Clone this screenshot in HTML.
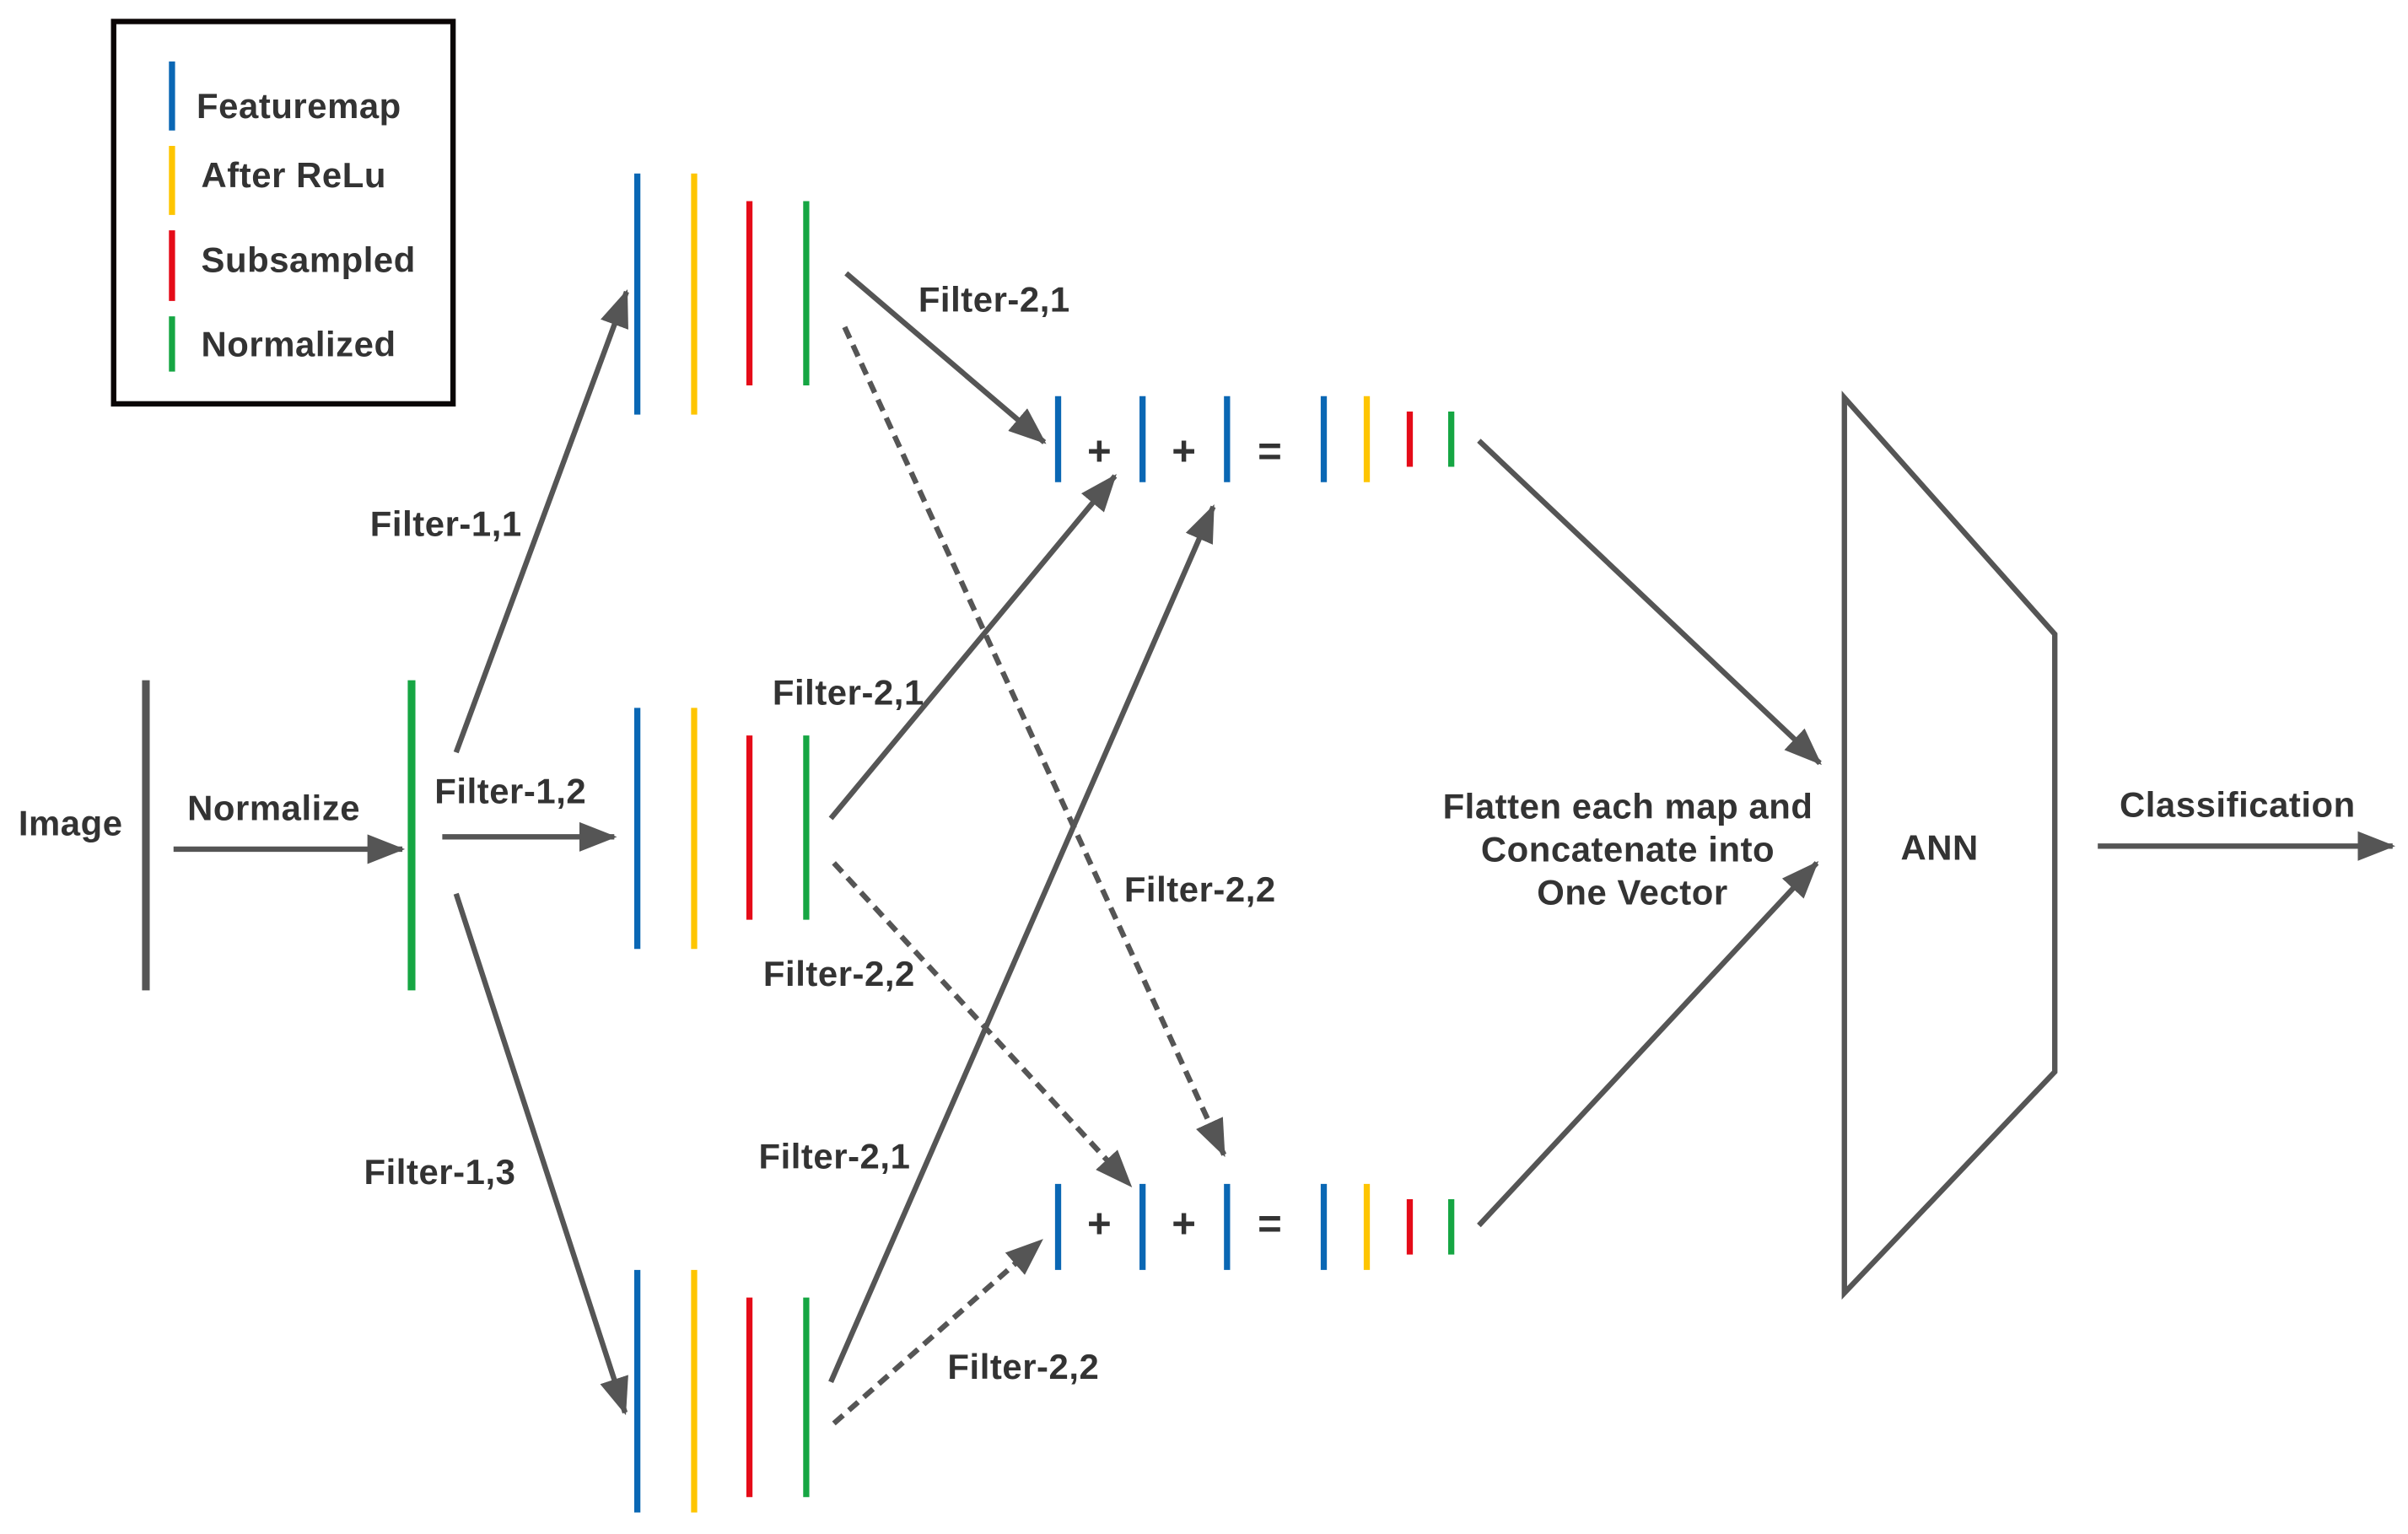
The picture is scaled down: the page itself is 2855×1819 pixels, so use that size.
<!DOCTYPE html>
<html><head><meta charset="utf-8"><style>
html,body{margin:0;padding:0;background:#fff}
svg{display:block}
text{font-family:"Liberation Sans",Arial,sans-serif;font-weight:bold;fill:#333;font-size:23px;letter-spacing:0.3px}
text.op{font-size:27px}
</style></head><body>
<svg width="2855" height="1819" viewBox="0 0 1568 999" preserveAspectRatio="none" xmlns="http://www.w3.org/2000/svg">
<defs>
<marker id="a" markerWidth="7" markerHeight="5.5" refX="6.5" refY="2.75" orient="auto" markerUnits="strokeWidth">
<path d="M0,0 L7,2.75 L0,5.5 Z" fill="#555"/>
</marker>
</defs>
<rect x="74" y="14" width="221" height="249" fill="none" stroke="#0a0505" stroke-width="3.5"/>
<g stroke-width="4">
<line x1="112" y1="40" x2="112" y2="85" stroke="#0a67b4"/>
<line x1="112" y1="95" x2="112" y2="140" stroke="#fec500"/>
<line x1="112" y1="150" x2="112" y2="196" stroke="#e50b18"/>
<line x1="112" y1="206" x2="112" y2="242" stroke="#16a643"/>
</g>
<text x="128" y="77">Featuremap</text>
<text x="131" y="122">After ReLu</text>
<text x="131" y="177">Subsampled</text>
<text x="131" y="232">Normalized</text>

<g stroke="#555" stroke-width="3.5" fill="none">
<line x1="95" y1="443" x2="95" y2="645" stroke-width="5"/>
<line x1="113" y1="553" x2="262" y2="553" marker-end="url(#a)"/>
<line x1="297" y1="490" x2="408" y2="190" marker-end="url(#a)"/>
<line x1="288" y1="545" x2="400" y2="545" marker-end="url(#a)"/>
<line x1="297" y1="582" x2="407" y2="920" marker-end="url(#a)"/>
<line x1="551" y1="178" x2="680" y2="288" marker-end="url(#a)"/>
<line x1="541" y1="533" x2="726" y2="310" marker-end="url(#a)"/>
<line x1="541" y1="900" x2="790" y2="330" marker-end="url(#a)"/>
<g stroke-dasharray="8,5">
<line x1="550" y1="213" x2="797" y2="752" marker-end="url(#a)"/>
<line x1="543" y1="562" x2="736" y2="772" marker-end="url(#a)"/>
<line x1="543" y1="927" x2="678" y2="808" marker-end="url(#a)"/>
</g>
<line x1="963" y1="287" x2="1185" y2="497" marker-end="url(#a)"/>
<line x1="963" y1="798" x2="1183" y2="562" marker-end="url(#a)"/>
<polygon points="1201,259 1338,413 1338,698 1201,842"/>
<line x1="1366" y1="551" x2="1558" y2="551" marker-end="url(#a)"/>
</g>
<line x1="268" y1="443" x2="268" y2="645" stroke="#16a643" stroke-width="5"/>

<g stroke-width="4">
<line x1="415" y1="113" x2="415" y2="270" stroke="#0a67b4"/>
<line x1="452" y1="113" x2="452" y2="270" stroke="#fec500"/>
<line x1="488" y1="131" x2="488" y2="251" stroke="#e50b18"/>
<line x1="525" y1="131" x2="525" y2="251" stroke="#16a643"/>
<line x1="415" y1="461" x2="415" y2="618" stroke="#0a67b4"/>
<line x1="452" y1="461" x2="452" y2="618" stroke="#fec500"/>
<line x1="488" y1="479" x2="488" y2="599" stroke="#e50b18"/>
<line x1="525" y1="479" x2="525" y2="599" stroke="#16a643"/>
<line x1="415" y1="827" x2="415" y2="985" stroke="#0a67b4"/>
<line x1="452" y1="827" x2="452" y2="985" stroke="#fec500"/>
<line x1="488" y1="845" x2="488" y2="975" stroke="#e50b18"/>
<line x1="525" y1="845" x2="525" y2="975" stroke="#16a643"/>
<line x1="689" y1="258" x2="689" y2="314" stroke="#0a67b4"/>
<line x1="744" y1="258" x2="744" y2="314" stroke="#0a67b4"/>
<line x1="799" y1="258" x2="799" y2="314" stroke="#0a67b4"/>
<line x1="862" y1="258" x2="862" y2="314" stroke="#0a67b4"/>
<line x1="890" y1="258" x2="890" y2="314" stroke="#fec500"/>
<line x1="918" y1="268" x2="918" y2="304" stroke="#e50b18"/>
<line x1="945" y1="268" x2="945" y2="304" stroke="#16a643"/>
<line x1="689" y1="771" x2="689" y2="827" stroke="#0a67b4"/>
<line x1="744" y1="771" x2="744" y2="827" stroke="#0a67b4"/>
<line x1="799" y1="771" x2="799" y2="827" stroke="#0a67b4"/>
<line x1="862" y1="771" x2="862" y2="827" stroke="#0a67b4"/>
<line x1="890" y1="771" x2="890" y2="827" stroke="#fec500"/>
<line x1="918" y1="781" x2="918" y2="817" stroke="#e50b18"/>
<line x1="945" y1="781" x2="945" y2="817" stroke="#16a643"/>
</g>
<text class="op" x="716" y="303" text-anchor="middle">+</text>
<text class="op" x="771" y="303" text-anchor="middle">+</text>
<text class="op" x="827" y="303" text-anchor="middle">=</text>
<text class="op" x="716" y="806" text-anchor="middle">+</text>
<text class="op" x="771" y="806" text-anchor="middle">+</text>
<text class="op" x="827" y="806" text-anchor="middle">=</text>

<text x="12" y="544">Image</text>
<text x="122" y="534">Normalize</text>
<text x="241" y="349">Filter-1,1</text>
<text x="283" y="523">Filter-1,2</text>
<text x="237" y="771">Filter-1,3</text>
<text x="598" y="203">Filter-2,1</text>
<text x="503" y="459">Filter-2,1</text>
<text x="494" y="761">Filter-2,1</text>
<text x="732" y="587">Filter-2,2</text>
<text x="497" y="642">Filter-2,2</text>
<text x="617" y="898">Filter-2,2</text>
<text x="1060" y="533" text-anchor="middle">Flatten each map and</text>
<text x="1060" y="561" text-anchor="middle">Concatenate into</text>
<text x="1063" y="589" text-anchor="middle">One Vector</text>
<text x="1263" y="560" text-anchor="middle">ANN</text>
<text x="1457" y="532" text-anchor="middle">Classification</text>
</svg>
</body></html>
